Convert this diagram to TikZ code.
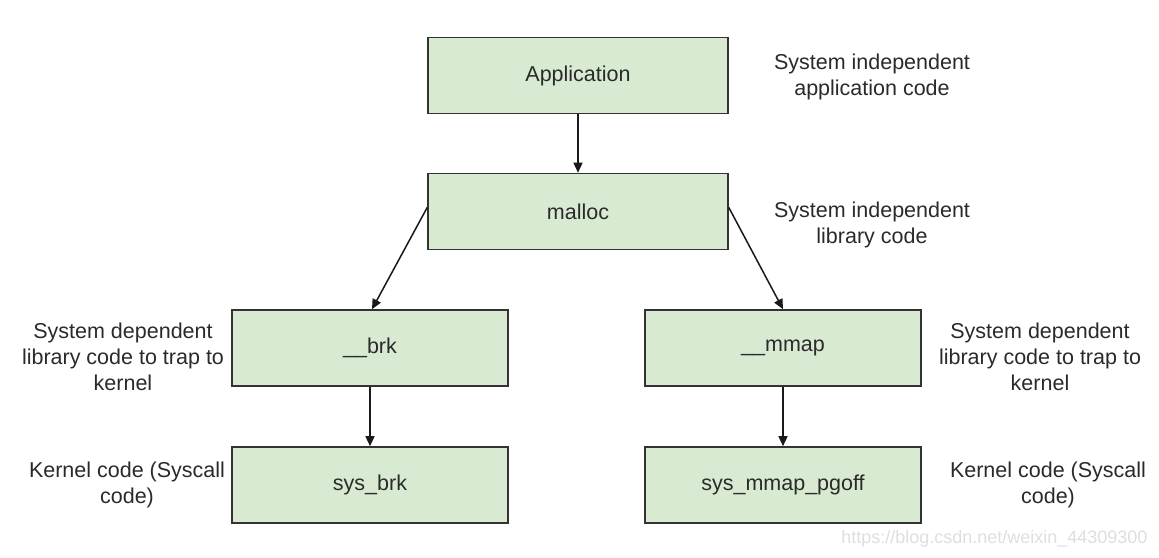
\documentclass[tikz,border=0pt]{standalone}
\usepackage{fontspec}
\setmainfont{Liberation Sans}
\usetikzlibrary{arrows.meta}
\definecolor{boxfill}{HTML}{D9EAD3}
\definecolor{boxline}{HTML}{333333}
\definecolor{txt}{HTML}{2A2A2A}
\tikzset{
  blk/.style={draw=boxline, fill=boxfill, line width=1.6pt, minimum width=#1, minimum height=76pt, inner sep=0pt, font=\fontsize{21.5}{25}\selectfont, text=txt},
  blk/.default=300pt,
  lbl/.style={align=center, font=\fontsize{21.5}{26}\selectfont, text=txt},
  conn/.style={-{Triangle[width=9pt,length=10pt]}, line width=1.5pt, draw=black!90}
}
\begin{document}
\begin{tikzpicture}[x=1pt,y=-1pt]
\useasboundingbox (0,0) rectangle (1159,557);
\node[blk=300pt] (app) at (578,75.5) {\raisebox{-3pt}{Application}};
\node[blk=300pt] (malloc) at (578,211.5) {\raisebox{-2pt}{malloc}};
\node[blk=276pt] (brk) at (370,348) {\_\_brk};
\node[blk=276pt] (mmap) at (783,348) {\_\_mmap};
\node[blk=276pt] (sysbrk) at (370,485) {sys\_brk};
\node[blk=276pt] (sysmmap) at (783,485) {sys\_mmap\_pgoff};

\node[lbl] (l1) at (872,77) {System independent\\application code};
\node[lbl] (l2) at (872,225) {System independent\\library code};
\node[lbl] (l3) at (123,357) {System dependent\\library code to trap to\\kernel};
\node[lbl] (l4) at (1040,357) {System dependent\\library code to trap to\\kernel};
\node[lbl] (l5) at (127,485) {Kernel code (Syscall\\code)};
\node[lbl] (l6) at (1048,485) {Kernel code (Syscall\\code)};
\node[font=\fontsize{18}{20}\selectfont, text=black!13, anchor=east] (wm) at (1151,539) {https://blog.csdn.net/weixin\_44309300};

\draw[conn] (app.south) -- (malloc.north);
\draw[conn] ([yshift=4pt]malloc.west) -- ([xshift=2pt]brk.north);
\draw[conn] ([yshift=4pt]malloc.east) -- (mmap.north);
\draw[conn] (brk.south) -- (sysbrk.north);
\draw[conn] (mmap.south) -- (sysmmap.north);
\end{tikzpicture}
\end{document}
